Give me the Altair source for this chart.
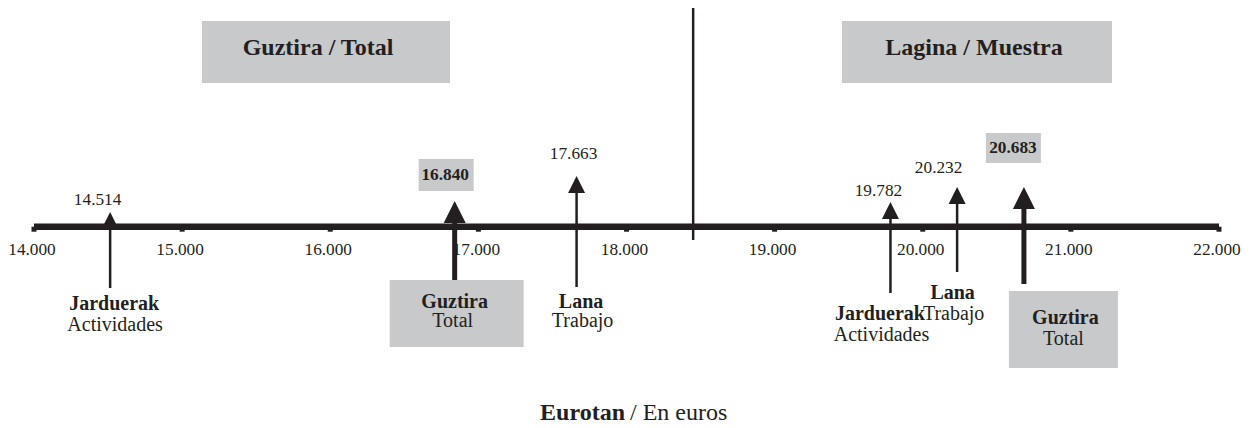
import altair as alt
import pandas as pd

# ---------------- data ----------------
values = [14514, 16840, 17663, 19782, 20232, 20683]
value_labels = ["14.514", "16.840", "17.663", "19.782", "20.232", "20.683"]
names_eu = ["Jarduerak", "Guztira", "Lana", "Jarduerak", "Lana", "Guztira"]
names_es = ["Actividades", "Total", "Trabajo", "Actividades", "Trabajo", "Total"]
is_total = [False, True, False, False, False, True]
tick_values = [14000, 15000, 16000, 17000, 18000, 19000, 20000, 21000, 22000]
tick_labels = ["14.000", "15.000", "16.000", "17.000", "18.000",
               "19.000", "20.000", "21.000", "22.000"]
panel_titles = ["Guztira / Total", "Lagina / Muestra"]
split_value = 18450
axis_title_bold = "Eurotan"
axis_title_rest = "/ En euros"

# ---------------- layout (page pixels) ----------------
X_DOMAIN = [14000, 22000]
X_RANGE = [26, 1211]            # chart pixels
PAGE_X0 = X_RANGE[0] + 8
PX_PER_UNIT = (X_RANGE[1] - X_RANGE[0]) / (X_DOMAIN[1] - X_DOMAIN[0])
AXIS_Y = 226.7
TICK_LABEL_Y = 250
FOOTER_Y = 412.5


def px2x(px):
    return X_DOMAIN[0] + (px - PAGE_X0) / PX_PER_UNIT


def off(v, dx):
    return v + dx / PX_PER_UNIT


apex_y = [212, 201, 176, 202, 187, 187]
stem_end_y = [288, 280, 287, 293, 272, 284]
value_y = [199.5, 174.5, 153.5, 191, 167.5, 147.5]
value_dx = [-12.5, -9.5, -3, -12, -18.5, -11]
name_y = [304, 302, 302, 314, 292.5, 318]
name_dx = [4, 0, 4.5, -10.5, -4.5, 41.5]
sub_y = [324.5, 320.5, 320.5, 335, 313.5, 338.5]
sub_dx = [5, -2, 6, -9, -3.5, 39.5]
# boxes behind the totals: (w, h, dx, cy)
value_box = {1: (55, 32, -8.5, 175), 5: (55, 30, -10.5, 148)}
name_box = {1: (134, 67, 2, 313.5), 5: (109, 77, 39.5, 329.5)}
title_box_px = [(202, 450), (842, 1112)]
title_box_y = (21, 83)
title_text_px = [318, 974]
title_text_y = 48

INK = "#231f20"
GREY = "#c8c9cb"
FONT = "Liberation Serif"

tri_w = [22 if t else 17 for t in is_total]
arrows = pd.DataFrame({
    "value": values,
    "label": value_labels,
    "eu": names_eu,
    "es": names_es,
    "total": is_total,
    "tri_y": [a + w / 2 for a, w in zip(apex_y, tri_w)],
    "tri_size": [w * w for w in tri_w],
    "stem_y2": stem_end_y,
    "stem_w": [5 if t else 2.5 for t in is_total],
    "val_x": [off(v, d) for v, d in zip(values, value_dx)],
    "val_y": value_y,
    "eu_x": [off(v, d) for v, d in zip(values, name_dx)],
    "eu_y": name_y,
    "es_x": [off(v, d) for v, d in zip(values, sub_dx)],
    "es_y": sub_y,
})

box_rows = []
for i, (w, h, dx, cy) in list(value_box.items()) + list(name_box.items()):
    v = values[i]
    box_rows.append({
        "x0": off(v, dx - w / 2), "x1": off(v, dx + w / 2),
        "y0": cy - h / 2, "y1": cy + h / 2,
    })
for (a, b) in title_box_px:
    box_rows.append({"x0": px2x(a), "x1": px2x(b),
                     "y0": title_box_y[0], "y1": title_box_y[1]})
boxes = pd.DataFrame(box_rows)

titles = pd.DataFrame({
    "title": panel_titles,
    "x": [px2x(p) for p in title_text_px],
    "y": [title_text_y] * 2,
})
footer = pd.DataFrame({
    "t": [axis_title_bold, axis_title_rest],
    "x": [px2x(625), px2x(630)],
    "y": [FOOTER_Y, FOOTER_Y],
})
divider = pd.DataFrame({"x": [split_value], "y": [8], "y2": [240]})
ticks = pd.DataFrame({
    "v": tick_values, "label": tick_labels,
    "y": [AXIS_Y] * len(tick_values), "y2": [AXIS_Y + 5] * len(tick_values),
    "ly": [TICK_LABEL_Y] * len(tick_values),
})
axis_line = pd.DataFrame({"x": [tick_values[0]], "x2": [tick_values[-1]], "y": [AXIS_Y]})

XS = alt.Scale(domain=X_DOMAIN, range=X_RANGE, nice=False, zero=False)
YS = alt.Scale(domain=[8, 420], reverse=True, nice=False, zero=False)


def X(field):
    return alt.X(field, scale=XS, axis=None)


def Y(field):
    return alt.Y(field, scale=YS, axis=None)


box_layer = alt.Chart(boxes).mark_rect(color=GREY).encode(
    x=X("x0:Q"), x2="x1:Q", y=Y("y0:Q"), y2="y1:Q")

axis_line_layer = alt.Chart(axis_line).mark_rule(color=INK, strokeWidth=6.5).encode(
    x=X("x:Q"), x2="x2:Q", y=Y("y:Q"))

tick_layer = alt.Chart(ticks).mark_rule(color=INK, strokeWidth=5).encode(
    x=X("v:Q"), y=Y("y:Q"), y2="y2:Q")

tick_label_layer = alt.Chart(ticks).mark_text(
    font=FONT, fontSize=17.3, color=INK, baseline="middle", align="center", dx=-2
).encode(x=X("v:Q"), y=Y("ly:Q"), text="label:N")

divider_layer = alt.Chart(divider).mark_rule(color=INK, strokeWidth=2.5).encode(
    x=X("x:Q"), y=Y("y:Q"), y2="y2:Q")

stem_layer = alt.Chart(arrows).mark_rule(color=INK).encode(
    x=X("value:Q"), y=Y("tri_y:Q"), y2="stem_y2:Q",
    strokeWidth=alt.StrokeWidth("stem_w:Q", scale=None))

tri_layer = alt.Chart(arrows).mark_point(
    shape="M0,-1L1,1L-1,1Z", filled=True, color=INK, opacity=1, strokeWidth=0
).encode(x=X("value:Q"), y=Y("tri_y:Q"),
         size=alt.Size("tri_size:Q", scale=None))

val_normal = alt.Chart(arrows).transform_filter("!datum.total").mark_text(
    font=FONT, fontSize=17.3, color=INK, baseline="middle", align="center"
).encode(x=X("val_x:Q"), y=Y("val_y:Q"), text="label:N")

val_bold = alt.Chart(arrows).transform_filter("datum.total").mark_text(
    font=FONT, fontSize=17.3, fontWeight="bold", color=INK, baseline="middle", align="center"
).encode(x=X("val_x:Q"), y=Y("val_y:Q"), text="label:N")

eu_layer = alt.Chart(arrows).mark_text(
    font=FONT, fontSize=20, fontWeight="bold", color=INK, baseline="middle", align="center"
).encode(x=X("eu_x:Q"), y=Y("eu_y:Q"), text="eu:N")

es_layer = alt.Chart(arrows).mark_text(
    font=FONT, fontSize=20, color=INK, baseline="middle", align="center"
).encode(x=X("es_x:Q"), y=Y("es_y:Q"), text="es:N")

title_layer = alt.Chart(titles).mark_text(
    font=FONT, fontSize=24, fontWeight="bold", color=INK, baseline="middle", align="center"
).encode(x=X("x:Q"), y=Y("y:Q"), text="title:N")

foot_bold = alt.Chart(footer.iloc[[0]]).mark_text(
    font=FONT, fontSize=24, fontWeight="bold", color=INK, baseline="middle", align="right"
).encode(x=X("x:Q"), y=Y("y:Q"), text="t:N")

foot_rest = alt.Chart(footer.iloc[[1]]).mark_text(
    font=FONT, fontSize=24, color=INK, baseline="middle", align="left"
).encode(x=X("x:Q"), y=Y("y:Q"), text="t:N")

chart = alt.layer(
    box_layer, divider_layer, axis_line_layer, tick_layer, tick_label_layer,
    stem_layer, tri_layer,
    val_normal, val_bold, eu_layer, es_layer, title_layer, foot_bold, foot_rest,
).properties(
    width=1237, height=412, padding=0, autosize="none", background="white"
).configure_view(stroke=None)

chart.save("out.html", embed_options={"renderer": "svg", "actions": False})
